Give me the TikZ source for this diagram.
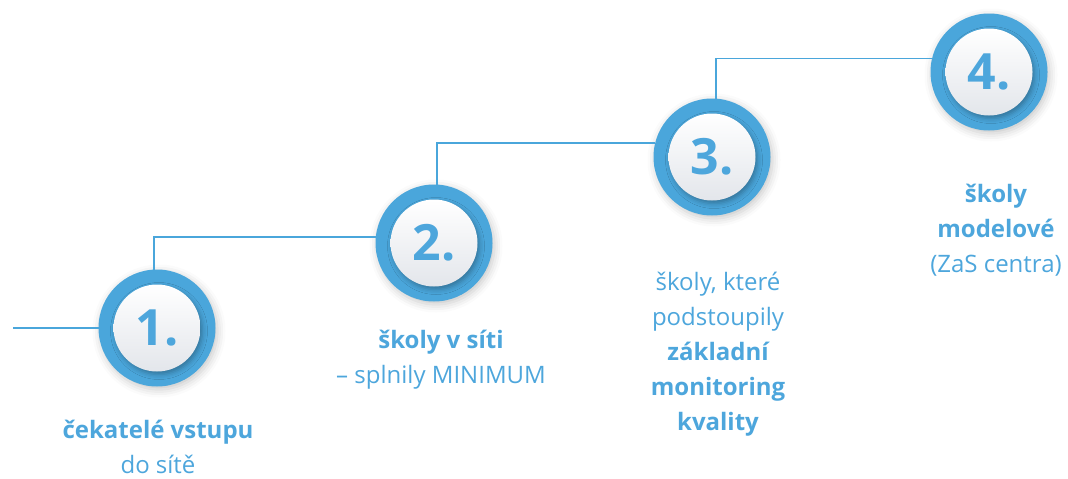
\documentclass[tikz,border=0pt]{standalone}
\usepackage{fontspec}
\setmainfont{Open Sans}
\usetikzlibrary{shadows.blur}
\definecolor{sblue}{HTML}{4AA6DB}
\definecolor{tblue}{HTML}{4DA6DC}
\definecolor{lgray}{HTML}{E3E6EB}
\begin{document}
\begin{tikzpicture}[x=1pt,y=-1pt,
  ring/.style={circle, fill=sblue, minimum size=117pt, inner sep=0pt, outer sep=0pt,
    blur shadow={shadow xshift=2pt, shadow yshift=-3pt, shadow blur radius=8pt, shadow opacity=22}},
  core/.style={circle, minimum size=87pt, inner sep=0pt, outer sep=0pt, top color=white, bottom color=lgray,
    blur shadow={shadow xshift=2pt, shadow yshift=-3pt, shadow blur radius=5pt, shadow opacity=30},
    text=tblue, font=\fontsize{50}{50}\selectfont\bfseries},
  conn/.style={draw=sblue, line width=1.3pt},
  lbl/.style={text=tblue, align=center, anchor=base, font=\fontsize{24}{35}\selectfont}
]
\useasboundingbox (0,0) rectangle (1068,479);
\coordinate (start) at (13,328);
\node[ring] (c1) at (157,328) {};
\node[ring] (c2) at (434,243) {};
\node[ring] (c3) at (712,157) {};
\node[ring] (c4) at (989,72) {};
\draw[conn] (start) -- (c1.west);
\draw[conn] ([xshift=-3pt]c1.north) |- (c2.174);
\draw[conn] ([xshift=3pt]c2.north) |- (c3.166);
\draw[conn] ([xshift=4pt]c3.north) |- (c4.167);
\node[core] (n1) at (c1) {1.};
\node[core] (n2) at (c2) {2.};
\node[core] (n3) at (c3) {3.};
\node[core] (n4) at (c4) {4.};
% labels (anchor = baseline of the last line)
\node[lbl] (t1) at (158,473) {\bfseries čekatelé vstupu\\do sítě};
\node[lbl] (t2) at (441,383) {\bfseries školy v síti\\– splnily MINIMUM};
\node[lbl] (t3) at (718,430) {školy, které\\podstoupily\\\bfseries základní\\\bfseries monitoring\\\bfseries kvality};
\node[lbl] (t4) at (996,272) {\bfseries školy\\\bfseries modelové\\(ZaS centra)};
\end{tikzpicture}
\end{document}
